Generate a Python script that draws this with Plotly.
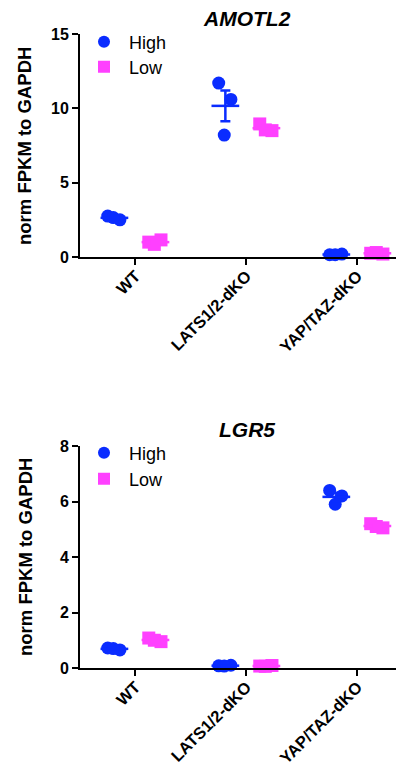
import plotly.graph_objects as go
import numpy as np

categories = ["WT", "LATS1/2-dKO", "YAP/TAZ-dKO"]

# AMOTL2 replicates (3 per group)
amotl2_high = [[2.75, 2.5, 2.65], [11.7, 10.6, 8.2], [0.15, 0.2, 0.15]]
amotl2_low = [[1.0, 1.15, 0.85], [8.95, 8.5, 8.55], [0.25, 0.2, 0.3]]
# LGR5 replicates
lgr5_high = [[0.72, 0.65, 0.7], [0.08, 0.1, 0.07], [6.4, 6.2, 5.9]]
lgr5_low = [[1.08, 0.95, 1.0], [0.07, 0.09, 0.06], [5.2, 5.05, 5.1]]

titles = ["AMOTL2", "LGR5"]
y_ticks_top = [0, 5, 10, 15]
y_ticks_bot = [0, 2, 4, 6, 8]

BLUE = "#0a2cff"
MAG = "#ff40ff"
FONT = "Liberation Sans, Arial, sans-serif"

# page body has an 8px margin; figure sized to fill the rest of the window
W, H = 396, 764
jit = [-0.06, 0.05, -0.01]
off = {"High": -0.19, "Low": 0.18}

fig = go.Figure()

def add_panel(high, low, xa, ya, legends):
    for name, data, color, sym, lg in [("High", high, BLUE, "circle", legends[0]),
                                        ("Low", low, MAG, "square", legends[1])]:
        xs, ys = [], []
        for ci, vals in enumerate(data):
            for k, v in enumerate(vals):
                xs.append(ci + off[name] + jit[k])
                ys.append(v)
        fig.add_trace(go.Scatter(x=xs, y=ys, mode="markers", name=" " + name,
                                 marker=dict(color=color, symbol=sym, size=13, line=dict(width=0)),
                                 xaxis=xa, yaxis=ya, legend=lg, showlegend=True,
                                 cliponaxis=False))
        for ci, vals in enumerate(data):
            m = float(np.mean(vals))
            sem = float(np.std(vals, ddof=1) / np.sqrt(len(vals)))
            cx = ci + off[name]
            fig.add_trace(go.Scatter(x=[cx - 0.125, cx + 0.125], y=[m, m], mode="lines",
                                     line=dict(color=color, width=2.5), xaxis=xa, yaxis=ya,
                                     showlegend=False, hoverinfo="skip", cliponaxis=False))
            fig.add_trace(go.Scatter(x=[cx], y=[m], mode="markers",
                                     marker=dict(size=1, color="rgba(0,0,0,0)"),
                                     error_y=dict(type="constant", value=sem, color=color,
                                                  thickness=2.5, width=5),
                                     xaxis=xa, yaxis=ya, showlegend=False, hoverinfo="skip",
                                     cliponaxis=False))

add_panel(amotl2_high, amotl2_low, "x", "y", ("legend", "legend3"))
add_panel(lgr5_high, lgr5_low, "x2", "y2", ("legend2", "legend4"))

def py(px):
    return 1 - px / H

xdom = [72 / W, 1.0]
axis_common = dict(showline=True, linecolor="black", linewidth=2, ticks="outside",
                   tickcolor="black", tickwidth=2, ticklen=6, showgrid=False, zeroline=False,
                   automargin=False)

xcommon = dict(domain=xdom, range=[-0.5, 2.42], tickmode="array", tickvals=[0, 1, 2],
               ticktext=["<b>%s</b>" % c for c in categories], tickangle=-45,
               ticklabelstandoff=-5,
               tickfont=dict(family=FONT, size=16.5, color="black"), **axis_common)
yfont = dict(family=FONT, size=16, color="black")

legend_common = dict(xanchor="left", yanchor="middle",
                     font=dict(family=FONT, size=18, color="black"), bgcolor="rgba(0,0,0,0)",
                     tracegroupgap=0, itemsizing="constant")
LX = 76 / W

fig.update_layout(
    width=W, height=H, margin=dict(l=0, r=0, t=0, b=0, autoexpand=False),
    plot_bgcolor="white", paper_bgcolor="white",
    xaxis=dict(anchor="y", **xcommon),
    yaxis=dict(domain=[py(249), py(26)], anchor="x", range=[0, 15], tickmode="array",
               tickvals=y_ticks_top, ticktext=["<b>%d</b>" % t for t in y_ticks_top],
               tickfont=yfont, **axis_common),
    xaxis2=dict(anchor="y2", **xcommon),
    yaxis2=dict(domain=[py(660), py(438)], anchor="x2", range=[0, 8], tickmode="array",
                tickvals=y_ticks_bot, ticktext=["<b>%d</b>" % t for t in y_ticks_bot],
                tickfont=yfont, **axis_common),
    legend=dict(x=LX, y=py(34), **legend_common),
    legend3=dict(x=LX, y=py(59), **legend_common),
    legend2=dict(x=LX, y=py(445), **legend_common),
    legend4=dict(x=LX, y=py(471), **legend_common),
    showlegend=True,
)

annos = [
    dict(text="<b><i>AMOTL2</i></b>", x=239 / W, y=py(10.5)),
    dict(text="<b><i>LGR5</i></b>", x=239 / W, y=py(421)),
]
for a in annos:
    fig.add_annotation(xref="paper", yref="paper", xanchor="center", yanchor="middle",
                       showarrow=False, font=dict(family=FONT, size=21, color="black"), **a)
for yc in [138, 549]:
    fig.add_annotation(text="<b>norm FPKM to GAPDH</b>", xref="paper", yref="paper",
                       x=17 / W, y=py(yc), xanchor="center", yanchor="middle", textangle=-90,
                       showarrow=False, font=dict(family=FONT, size=18.5, color="black"))

fig.write_html("out.html")
